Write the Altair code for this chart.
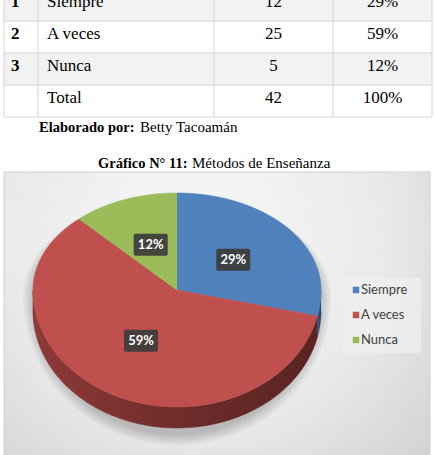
import altair as alt
import pandas as pd

# ---------------- data ----------------
row_nums = ["1", "2", "3", ""]
row_labels = ["Siempre", "A veces", "Nunca", "Total"]
row_freq = ["12", "25", "5", "42"]
row_pct = ["29%", "59%", "12%", "100%"]

categories = ["Siempre", "A veces", "Nunca"]
counts = [12, 25, 5]
pct_labels = ["29%", "59%", "12%"]
colors = ["#4F81BD", "#C0504D", "#9BBB59"]
side_colors = ["#3B6391", "#8E3937", "#728A40"]

note_bold = "Elaborado por:"
note_text = "Betty Tacoamán"
title_bold = "Gráfico N° 11:"
title_text = "Métodos de Enseñanza"

# ---------------- geometry / style ----------------
CX, CY, RX, RT, RB, DEPTH = 177, 290, 144, 97, 117, 21
N = 90
SERIF = "Liberation Serif"
SANS = "Lato"

X = alt.Scale(domain=[0, 434], nice=False, zero=False)
Y = alt.Scale(domain=[0, 455], reverse=True, nice=False, zero=False)


def xq(f):
    return alt.X(f, type="quantitative", scale=X, axis=None)


def yq(f):
    return alt.Y(f, type="quantitative", scale=Y, axis=None)


def ry(a):
    return f"(cos({a}) > 0 ? {RT} : {RB})"


layers = []

# ---------------- table ----------------
table_df = pd.DataFrame({"idx": range(len(row_labels)), "num": row_nums,
                         "label": row_labels, "freq": row_freq, "pct": row_pct})
table = alt.Chart(table_df).transform_calculate(
    top="-11 + 32*datum.idx", bot="21 + 32*datum.idx", base="7 + 32*datum.idx")

layers.append(table.transform_filter("datum.idx % 2 == 0").mark_rect(fill="#F2F2F2").encode(
    x=alt.value(4), x2=alt.value(432), y=yq("top"), y2=alt.Y2("bot")))
layers.append(table.mark_rule(color="#D4D4D4", strokeWidth=1).encode(
    x=alt.value(4), x2=alt.value(432), y=yq("bot")))
for vx in [4, 38, 214, 333, 432]:
    layers.append(table.transform_filter("datum.idx == 0").mark_rule(color="#D4D4D4", strokeWidth=1).encode(
        x=alt.value(vx), y=alt.value(0), y2=alt.value(117)))

layers.append(table.mark_text(font=SERIF, fontSize=17, fontWeight="bold", align="left",
                              baseline="alphabetic", color="#000").encode(
    x=alt.value(11), y=yq("base"), text="num:N"))
layers.append(table.mark_text(font=SERIF, fontSize=17, align="left",
                              baseline="alphabetic", color="#000").encode(
    x=alt.value(47), y=yq("base"), text="label:N"))
layers.append(table.mark_text(font=SERIF, fontSize=17, align="center",
                              baseline="alphabetic", color="#000").encode(
    x=alt.value(273.5), y=yq("base"), text="freq:N"))
layers.append(table.mark_text(font=SERIF, fontSize=17, align="center",
                              baseline="alphabetic", color="#000").encode(
    x=alt.value(382.5), y=yq("base"), text="pct:N"))

# captions
cap_df = pd.DataFrame({"b": [note_bold, title_bold], "t": [note_text, title_text],
                       "row": [0, 1]})
cap = alt.Chart(cap_df)
layers.append(cap.transform_filter("datum.row == 0").mark_text(
    font=SERIF, fontSize=14.5, fontWeight="bold", align="left", baseline="alphabetic", color="#000").encode(
    x=alt.value(39), y=alt.value(131.5), text="b:N"))
layers.append(cap.transform_filter("datum.row == 0").mark_text(
    font=SERIF, fontSize=15, align="left", baseline="alphabetic", color="#000").encode(
    x=alt.value(140), y=alt.value(131.5), text="t:N"))
layers.append(cap.transform_filter("datum.row == 1").mark_text(
    font=SERIF, fontSize=14.5, fontWeight="bold", align="left", baseline="alphabetic", color="#000").encode(
    x=alt.value(98), y=alt.value(168), text="b:N"))
layers.append(cap.transform_filter("datum.row == 1").mark_text(
    font=SERIF, fontSize=15, align="left", baseline="alphabetic", color="#000").encode(
    x=alt.value(192), y=alt.value(168), text="t:N"))

# ---------------- chart background ----------------
bg_grad = {"gradient": "radial", "x1": 0.45, "y1": 0.3, "r1": 0, "x2": 0.45, "y2": 0.3, "r2": 0.8,
           "stops": [{"offset": 0, "color": "#F8F8F8"}, {"offset": 0.55, "color": "#EAEAEA"},
                     {"offset": 1, "color": "#CFCFCF"}]}
layers.append(alt.Chart(alt.sequence(0, 1, as_="i")).mark_rect(
    fill=bg_grad, stroke="#D0D0D0", strokeWidth=1).encode(
    x=alt.value(4), x2=alt.value(430), y=alt.value(172), y2=alt.value(470)))

# ---------------- shadow ----------------
shadow = alt.Chart(alt.sequence(0, 6, as_="ring")).transform_calculate(
    k=f"sequence(0, {2 * N + 1})").transform_flatten(["k"]).transform_calculate(
    ang=f"2*PI*datum.k/{2 * N}", e="datum.ring*2").transform_calculate(
    px=f"{CX} + ({RX} + datum.e)*sin(datum.ang)",
    py=f"{CY} + 7 - cos(datum.ang)*(cos(datum.ang) > 0 ? {RT} + datum.e*0.4 : {RB} + {DEPTH} + datum.e)")
layers.append(shadow.mark_line(filled=True, fill="#000000", opacity=0.035, strokeWidth=0).encode(
    x=xq("px"), y=yq("py"), order="k:Q", detail="ring:N"))

# ---------------- pie ----------------
pie_df = pd.DataFrame({"cat": categories, "count": counts, "lab": pct_labels,
                       "col": colors, "side": side_colors, "idx": range(len(categories))})
base = alt.Chart(pie_df).transform_joinaggregate(total="sum(count)").transform_window(
    cum="sum(count)", sort=[alt.SortField("idx")], frame=[None, 0]).transform_calculate(
    a0="2*PI*(datum.cum - datum.count)/datum.total", a1="2*PI*datum.cum/datum.total")

# side walls
side = base.transform_calculate(s="max(datum.a0, PI/2)", e="min(datum.a1, 3*PI/2)").transform_filter(
    "datum.e > datum.s").transform_calculate(k=f"sequence(0, {2 * N + 2})").transform_flatten(
    ["k"]).transform_calculate(j=f"datum.k <= {N} ? datum.k : {2 * N + 1} - datum.k").transform_calculate(
    ang=f"datum.s + (datum.e - datum.s)*datum.j/{N}").transform_calculate(
    px=f"{CX} + {RX}*sin(datum.ang)",
    py=f"{CY} - cos(datum.ang)*{RB} + (datum.k > {N} ? {DEPTH} : 0)")
layers.append(side.mark_line(filled=True, strokeWidth=0.6).encode(
    x=xq("px"), y=yq("py"), order="k:Q", detail="cat:N",
    fill=alt.Fill("side:N", scale=None), stroke=alt.Stroke("side:N", scale=None)))
shade = {"gradient": "linear", "x1": 0, "y1": 0, "x2": 1, "y2": 0,
         "stops": [{"offset": 0, "color": "rgba(0,0,0,0)"}, {"offset": 0.5, "color": "rgba(0,0,0,0.22)"},
                   {"offset": 1, "color": "rgba(0,0,0,0.38)"}]}
layers.append(side.mark_line(filled=True, fill=shade, strokeWidth=0).encode(
    x=xq("px"), y=yq("py"), order="k:Q", detail="cat:N"))

# top surface
top = base.transform_calculate(k=f"sequence(-1, {N + 1})").transform_flatten(["k"]).transform_calculate(
    ang=f"datum.a0 + (datum.a1 - datum.a0)*max(datum.k, 0)/{N}").transform_calculate(
    px=f"datum.k < 0 ? {CX} : {CX} + {RX}*sin(datum.ang)",
    py=f"datum.k < 0 ? {CY} : {CY} - cos(datum.ang)*{ry('datum.ang')}")
layers.append(top.mark_line(filled=True, strokeWidth=0.6, strokeJoin="round").encode(
    x=xq("px"), y=yq("py"), order="k:Q", detail="cat:N",
    fill=alt.Fill("col:N", scale=None), stroke=alt.Stroke("col:N", scale=None)))

# data labels
lab = base.transform_calculate(mid="(datum.a0 + datum.a1)/2").transform_calculate(
    lx=f"{CX} + 0.5*{RX}*sin(datum.mid)",
    ly=f"{CY} - 0.5*cos(datum.mid)*{ry('datum.mid')}").transform_calculate(
    bx0="datum.lx - 17", bx1="datum.lx + 17", by0="datum.ly - 11", by1="datum.ly + 11")
layers.append(lab.mark_rect(fill="#3C3C3C", opacity=0.92, cornerRadius=2).encode(
    x=xq("bx0"), x2=alt.X2("bx1"), y=yq("by0"), y2=alt.Y2("by1")))
layers.append(lab.mark_text(font=SANS, fontSize=13, fontWeight="bold", color="white",
                            align="center", baseline="middle").encode(
    x=xq("lx"), y=yq("ly"), text="lab:N"))

# ---------------- legend ----------------
layers.append(alt.Chart(alt.sequence(0, 1, as_="i")).mark_rect(fill="#F2F2F2", opacity=0.6).encode(
    x=alt.value(343), x2=alt.value(421), y=alt.value(278), y2=alt.value(353)))
leg = alt.Chart(pie_df).transform_calculate(ly="290 + 25*datum.idx")
layers.append(leg.mark_square(size=42, opacity=1).encode(
    x=alt.value(356), y=yq("ly"), fill=alt.Fill("col:N", scale=None)))
layers.append(leg.mark_text(font=SANS, fontSize=13, align="left", baseline="middle", color="#404040").encode(
    x=alt.value(361), y=yq("ly"), text="cat:N"))

chart = alt.layer(*layers).properties(
    width=434, height=455, padding=0, autosize=alt.AutoSizeParams(type="none"),
    background="white").configure_view(stroke=None)

chart.save("out.html", embed_options={"renderer": "svg", "actions": False})
